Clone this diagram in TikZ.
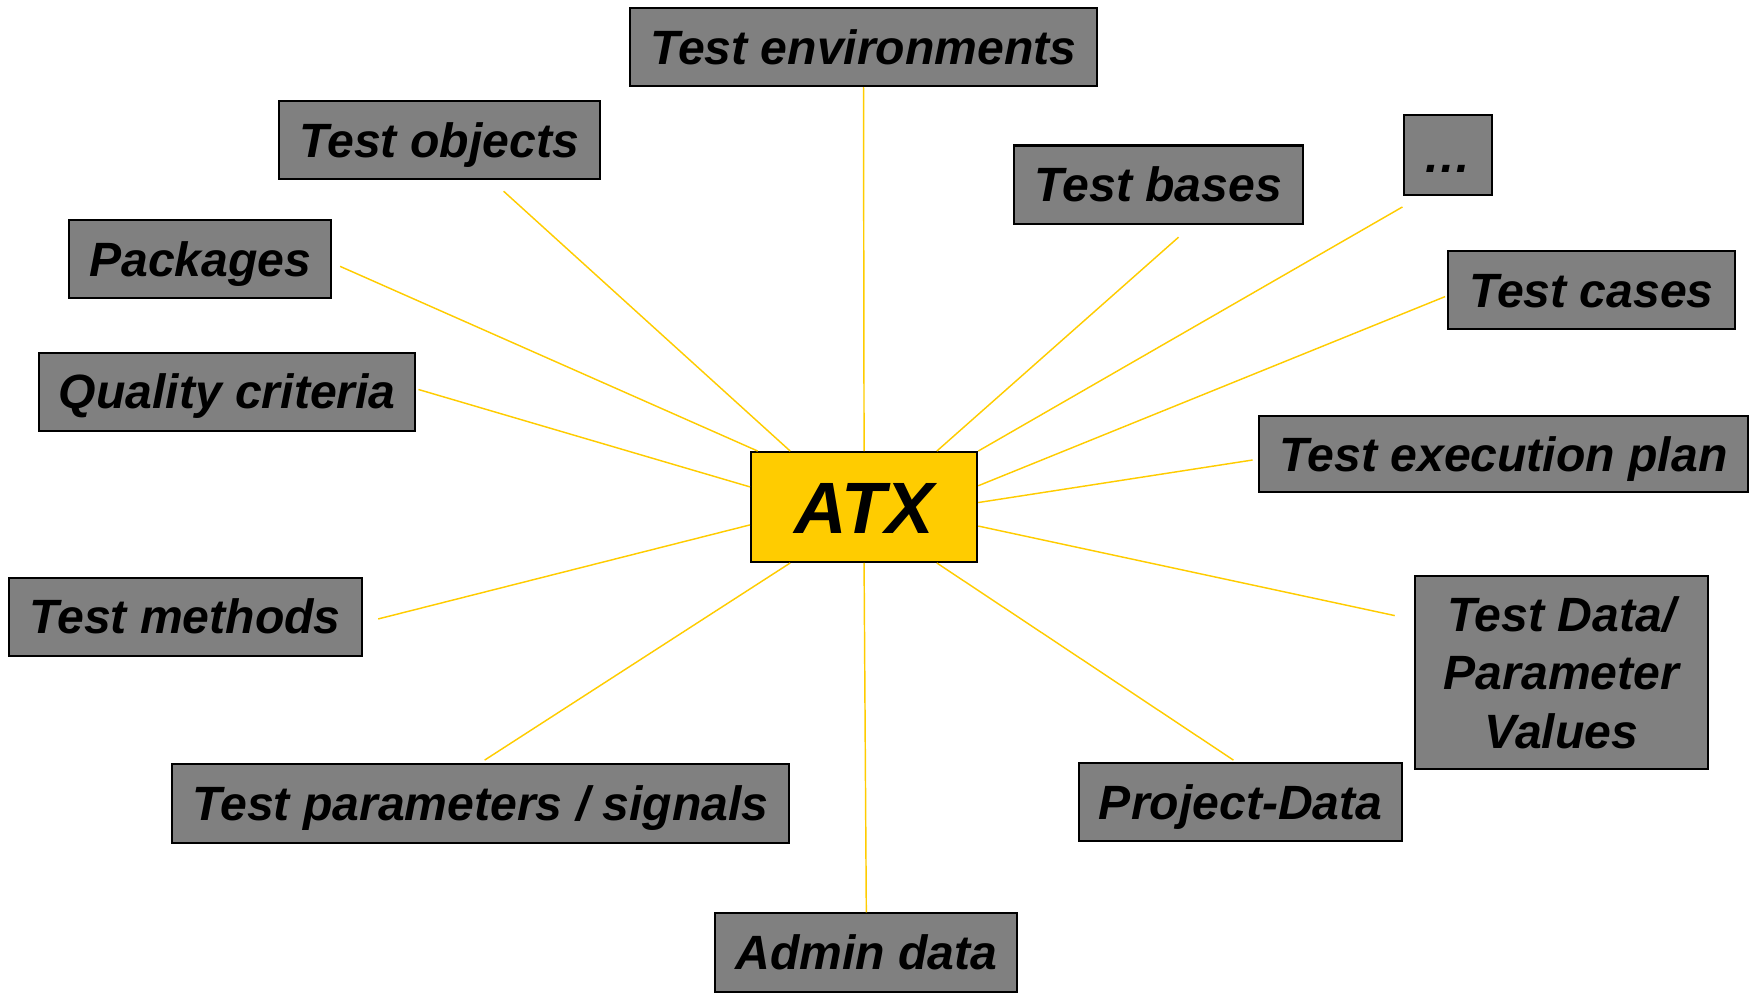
\documentclass[tikz,border=0pt]{standalone}
\usepackage{fontspec}
\setmainfont{Liberation Sans}
\usetikzlibrary{calc}
\definecolor{boxgrey}{HTML}{808080}
\definecolor{atxyellow}{HTML}{FFCC00}
\begin{document}
\begin{tikzpicture}[x=0.5pt,y=-0.5pt,
  topic/.style={draw=black,line width=0.9pt,fill=boxgrey,inner sep=0pt,
    font=\fontsize{21.5}{25}\selectfont\bfseries\itshape,align=center},
  oneline/.style={text height=15.4pt,text depth=0pt},
  hub/.style={draw=black,line width=1pt,fill=atxyellow,inner sep=0pt,
    text height=23.3pt,text depth=0pt,
    font=\fontsize{32.5}{38}\selectfont\bfseries\itshape},
  link/.style={draw=atxyellow,line width=0.65pt}]
\useasboundingbox (0,0) rectangle (1568,887);

\node[hub,minimum width=101pt,minimum height=49pt] (atx) at (772,453) {ATX};

\node[topic,oneline,minimum width=208.5pt,minimum height=35pt] (env) at (771.5,42) {Test environments};
\node[topic,oneline,minimum width=143.5pt,minimum height=35pt] (obj) at (392.5,125) {Test objects};
\node[topic,oneline,minimum width=117pt,minimum height=34.5pt] (pkg) at (179,231.5) {Packages};
\node[topic,oneline,minimum width=168pt,minimum height=35pt] (qual) at (203,350) {Quality criteria};
\node[topic,oneline,minimum width=157.5pt,minimum height=35pt] (meth) at (165.5,551) {Test methods};
\node[topic,oneline,minimum width=275.5pt,minimum height=35pt] (par) at (429.5,718) {Test parameters / signals};
\node[topic,oneline,minimum width=135pt,minimum height=35pt] (adm) at (774,851) {Admin data};
\node[topic,oneline,minimum width=144.5pt,minimum height=34.5pt] (proj) at (1108.5,716.5) {Project-Data};
\node[topic,minimum width=131pt,minimum height=86pt,font=\fontsize{21.5}{26}\selectfont\bfseries\itshape] (tdata) at (1395,601) {Test Data/\\Parameter\\Values};
\node[topic,oneline,minimum width=218.5pt,minimum height=34pt] (exec) at (1343.5,406) {Test execution plan};
\node[topic,oneline,minimum width=128pt,minimum height=35pt] (cases) at (1422,259) {Test cases};
\node[topic,oneline,minimum width=39.5pt,minimum height=35.5pt] (dots) at (1293.5,138.5) {…};
\node[topic,oneline,minimum width=129pt,minimum height=35pt] (bases) at (1035,165) {Test bases};

\draw[link] ($(obj.south)+(57.5,10)$) -- ($(atx.north west)+(36,0)$);
\draw[link] (env.south) -- (atx.north);
\draw[link] ($(bases.south)+(18,11)$) -- ($(atx.north east)+(-37,0)$);
\draw[link] ($(dots.south)+(-40.5,10)$) -- (atx.north east);
\draw[link] ($(cases.west)+(-2,6)$) -- ($(atx.north east)+(0,31)$);
\draw[link] ($(exec.west)+(-5,5)$) -- ($(atx.north east)+(0,46)$);
\draw[link] ($(tdata.west)+(-17,-51)$) -- ($(atx.north east)+(0,67)$);
\draw[link] ($(proj.north)+(-6.5,-2)$) -- ($(atx.south east)+(-37,0)$);
\draw[link] (adm.north) -- (atx.south);
\draw[link] ($(par.north)+(3.5,-3)$) -- ($(atx.south west)+(36,0)$);
\draw[link] ($(meth.east)+(14,2)$) -- ($(atx.north west)+(0,66)$);
\draw[link] ($(qual.east)+(2,-2)$) -- ($(atx.north west)+(0,32)$);
\draw[link] ($(pkg.east)+(7,6.5)$) -- ($(atx.north west)+(7,0)$);
\end{tikzpicture}
\end{document}
